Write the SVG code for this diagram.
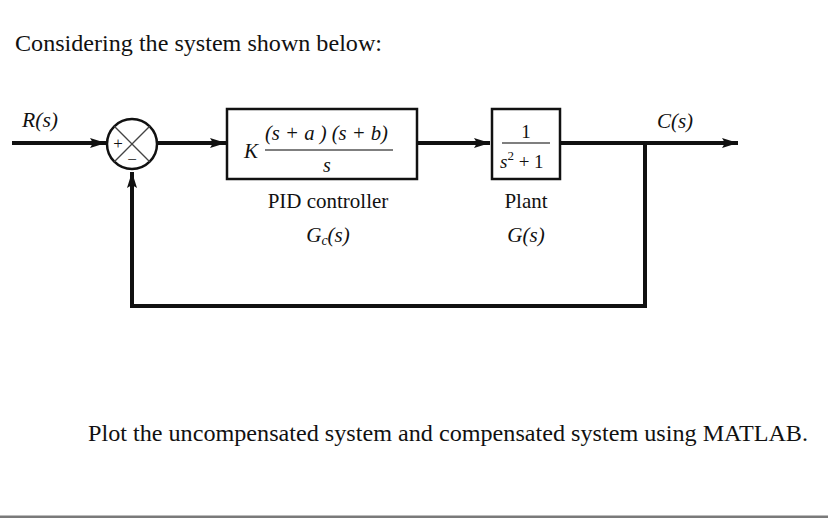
<svg xmlns="http://www.w3.org/2000/svg" width="828" height="518" viewBox="0 0 828 518">
<defs>
<marker id="arr" viewBox="0 0 16 10" refX="16" refY="5" markerWidth="16" markerHeight="10" markerUnits="userSpaceOnUse" orient="auto">
<path d="M0,0 L16,5 L0,10 L3,5 Z" fill="#111"/>
</marker>
</defs>
<style>
.t{font-family:"Liberation Serif","Times New Roman",serif;fill:#111}
.i{font-style:italic}
.sig{stroke:#111;stroke-width:4;fill:none}
.box{stroke:#111;stroke-width:2.5;fill:#fff}
.thin{stroke:#444;stroke-width:1.3;fill:none}
</style>
<rect width="828" height="518" fill="#fff"/>
<text class="t" x="15" y="51" font-size="24" textLength="367" lengthAdjust="spacingAndGlyphs">Considering the system shown below:</text>

<g id="connectors">
<line class="sig" x1="12" y1="143" x2="106" y2="143" marker-end="url(#arr)"/>
<line class="sig" x1="158" y1="143" x2="226" y2="143" marker-end="url(#arr)"/>
<line class="sig" x1="418" y1="143" x2="490" y2="143" marker-end="url(#arr)"/>
<line class="sig" x1="561" y1="143" x2="738" y2="143" marker-end="url(#arr)"/>
<polyline class="sig" points="645,143 645,306 132,306 132,172" marker-end="url(#arr)"/>
</g>

<g id="labels">
<text class="t i" x="22" y="127" font-size="21" textLength="36" lengthAdjust="spacingAndGlyphs">R(s)</text>
<text class="t i" x="675" y="128" font-size="21" text-anchor="middle">C(s)</text>
</g>

<g id="sum">
<circle cx="132" cy="144" r="25" fill="#fff" stroke="#111" stroke-width="2.5"/>
<line class="thin" x1="114.3" y1="126.3" x2="149.7" y2="161.7"/>
<line class="thin" x1="149.7" y1="126.3" x2="114.3" y2="161.7"/>
<text class="t" x="118" y="149" font-size="17" text-anchor="middle">+</text>
<text class="t" x="132" y="165" font-size="17" text-anchor="middle">−</text>
</g>

<g id="pid">
<rect class="box" x="227" y="109" width="190" height="70"/>
<text class="t i" x="244" y="158" font-size="21">K</text>
<text class="t i" x="265" y="140" font-size="20" textLength="123" lengthAdjust="spacingAndGlyphs">(s + a ) (s + b)</text>
<line x1="265" y1="150" x2="393" y2="150" stroke="#555" stroke-width="1.3"/>
<text class="t i" x="327" y="172" font-size="20" text-anchor="middle">s</text>
<text class="t" x="328" y="208" font-size="21" text-anchor="middle">PID controller</text>
<text class="t i" x="328" y="242" font-size="21" text-anchor="middle">G<tspan font-size="14" dy="3">c</tspan><tspan dy="-3">(s)</tspan></text>
</g>

<g id="plant">
<rect class="box" x="492" y="109" width="68" height="70"/>
<text class="t" x="526" y="138" font-size="19" text-anchor="middle">1</text>
<line x1="502" y1="143" x2="550" y2="143" stroke="#555" stroke-width="1.3"/>
<text class="t" x="500" y="168" font-size="19"><tspan class="i">s</tspan><tspan font-size="13" dy="-8">2</tspan><tspan dy="8"> + 1</tspan></text>
<text class="t" x="526" y="208" font-size="21" text-anchor="middle">Plant</text>
<text class="t i" x="526" y="242" font-size="21" text-anchor="middle">G(s)</text>
</g>

<text class="t" x="88" y="441" font-size="24" textLength="720" lengthAdjust="spacingAndGlyphs">Plot the uncompensated system and compensated system using MATLAB.</text>
<rect x="0" y="515.5" width="828" height="2.5" fill="#7a7a7a"/>
</svg>
